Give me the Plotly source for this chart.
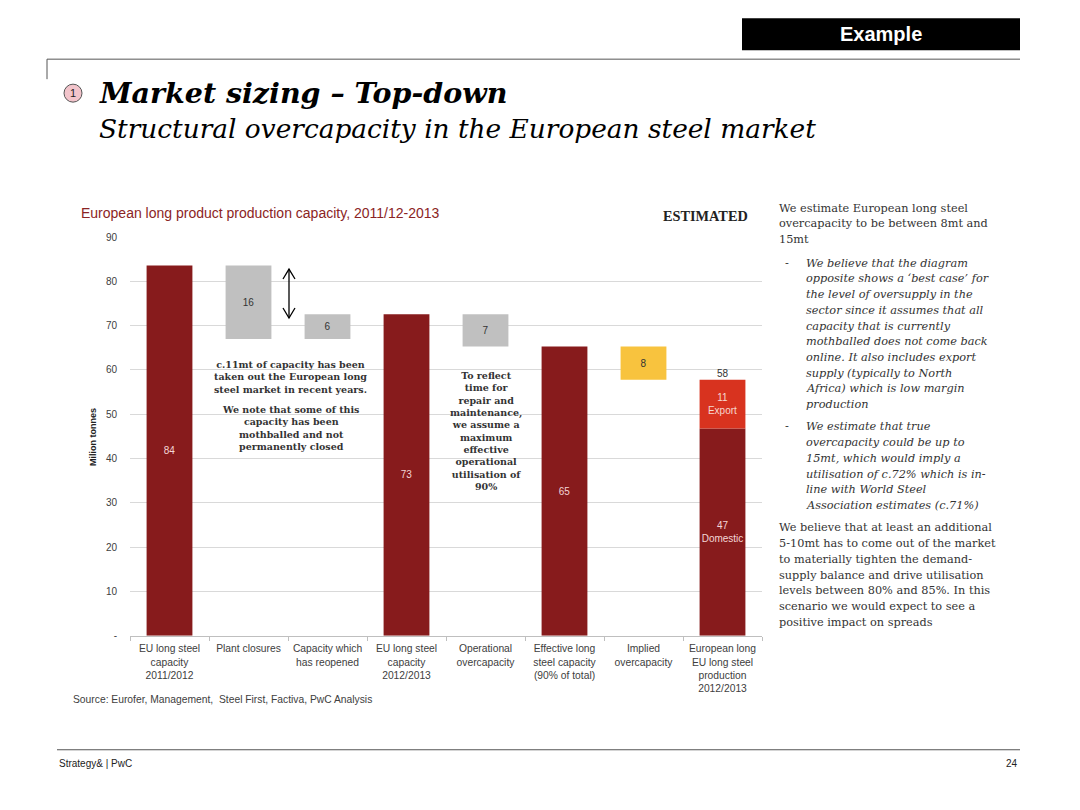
import plotly.graph_objects as go

W, H = 1080, 810

# ---------------- data ----------------
categories = [
    "EU long steel<br>capacity<br>2011/2012",
    "Plant closures",
    "Capacity which<br>has reopened",
    "EU long steel<br>capacity<br>2012/2013",
    "Operational<br>overcapacity",
    "Effective long<br>steel capacity<br>(90% of total)",
    "Implied<br>overcapacity",
    "European long<br>EU long steel<br>production<br>2012/2013",
]
cap_2011 = 83.6
plant_closures = 16.6
reopened = 5.6
cap_2012 = 72.6
operational_over = 7.3
effective_cap = 65.3
implied_over = 7.5
domestic = 46.8
export = 11.0

bar_base = [0, cap_2011 - plant_closures, cap_2011 - plant_closures, 0,
            effective_cap, 0, effective_cap - implied_over, 0]
bar_height = [cap_2011, plant_closures, reopened, cap_2012,
              operational_over, effective_cap, implied_over, domestic]
bar_labels = ["84", "16", "6", "73", "7", "65", "8", "47<br>Domestic"]
export_label = "11<br>Export"
total_label = "58"
y_ticks = [0, 10, 20, 30, 40, 50, 60, 70, 80, 90]
y_tick_text = ["-", "10", "20", "30", "40", "50", "60", "70", "80", "90"]

DARK = "#871b1c"
GREY = "#c0c0c0"
YELLOW = "#f8c33e"
EXPORT = "#d8331f"
bar_colors = [DARK, GREY, GREY, DARK, GREY, DARK, YELLOW, DARK]
text_colors = ["#f3d6d6" if c == DARK else "#333333" for c in bar_colors]

fig = go.Figure()
fig.add_trace(go.Bar(
    x=categories, y=bar_height, base=bar_base,
    marker=dict(color=bar_colors, line=dict(width=0)),
    text=bar_labels, textposition="inside", insidetextanchor="middle",
    textangle=0, textfont=dict(family="Liberation Sans, Arial", size=10, color=text_colors),
    width=0.58, hoverinfo="skip", showlegend=False,
))
fig.add_trace(go.Bar(
    x=[categories[-1]], y=[export], base=[domestic],
    marker=dict(color=EXPORT, line=dict(width=0)),
    text=[export_label], textposition="inside", insidetextanchor="middle",
    textangle=0, textfont=dict(family="Liberation Sans, Arial", size=10, color="#f6d8d0"),
    width=0.58, hoverinfo="skip", showlegend=False,
))
fig.add_trace(go.Scatter(
    x=[categories[-1]], y=[domestic + export], mode="text",
    text=[total_label], textposition="top center",
    textfont=dict(family="Liberation Sans, Arial", size=10, color="#333333"),
    hoverinfo="skip", showlegend=False,
))

# vertical correction for the capture pipeline (observed y' = SY*y + OY)
SY, OY = 0.987, 4.8


def px(x):
    return x / W


def py(y):
    return 1 - ((y - OY) / SY) / H


x0, x1 = 130, 762
y0, y1 = 237, 636

fig.update_layout(
    width=W, height=H,
    margin=dict(l=0, r=0, t=0, b=0),
    paper_bgcolor="white", plot_bgcolor="white",
    barmode="overlay",
    uniformtext=dict(minsize=10, mode="show"),
    xaxis=dict(
        domain=[px(x0), px(x1)], type="category",
        showline=True, linecolor="#bfbfbf", linewidth=1,
        ticks="outside", tickson="boundaries", ticklen=4, tickcolor="#bfbfbf",
        tickangle=0, ticklabelstandoff=3,
        tickfont=dict(family="Liberation Sans, Arial", size=10.3, color="#404040"),
        showgrid=False, fixedrange=True,
    ),
    yaxis=dict(
        domain=[py(y1), py(y0)], range=[0, 90],
        tickvals=y_ticks, ticktext=y_tick_text,
        showgrid=True, gridcolor="#d9d9d9", gridwidth=1,
        zeroline=False, showline=False, ticks="",
        ticklabelstandoff=12,
        tickfont=dict(family="Liberation Sans, Arial", size=10, color="#404040"),
        fixedrange=True,
    ),
    font=dict(family="Liberation Sans, Arial"),
)

shapes = []
annotations = []


def txt(x, y, text, font, xanchor="left", yanchor="middle", align="left", **kw):
    annotations.append(dict(xref="paper", yref="paper", x=px(x), y=py(y),
                            xanchor=xanchor, yanchor=yanchor, align=align,
                            text=text, showarrow=False, font=font, **kw))


# Example box
shapes.append(dict(type="rect", xref="paper", yref="paper",
                   x0=px(742), x1=px(1020), y0=py(50), y1=py(18),
                   fillcolor="black", line=dict(width=0)))
txt(881, 34, "<b>Example</b>", dict(family="Liberation Sans, Arial", size=20, color="white"),
    xanchor="center")
# top rule
shapes.append(dict(type="line", xref="paper", yref="paper",
                   x0=px(47), x1=px(1020), y0=py(59), y1=py(59),
                   line=dict(color="#555555", width=1)))
shapes.append(dict(type="line", xref="paper", yref="paper",
                   x0=px(47), x1=px(47), y0=py(59), y1=py(79),
                   line=dict(color="#555555", width=1)))
# circle 1
shapes.append(dict(type="circle", xref="paper", yref="paper",
                   x0=px(64), x1=px(82), y0=py(102), y1=py(84),
                   fillcolor="#f2c4cb", line=dict(color="#555555", width=1)))
txt(73, 93, "1", dict(family="Liberation Sans, Arial", size=11, color="#222222"), xanchor="center")
# titles
txt(97, 93, "<b><i>Market sizing – Top-down</i></b>",
    dict(family="DejaVu Serif", size=28.5, color="black"))
txt(97, 128, "<i>Structural overcapacity in the European steel market</i>",
    dict(family="DejaVu Serif", size=26.4, color="black"))
# chart title
txt(79, 213, "European long product production capacity, 2011/12-2013",
    dict(family="Liberation Sans, Arial", size=14, color="#8b2424"))
txt(750, 216, "<b>ESTIMATED</b>", dict(family="Liberation Serif", size=14.3, color="#222222"),
    xanchor="right")
# y-axis title
txt(93, 437, "<b>Milion tonnes</b>", dict(family="Liberation Sans, Arial", size=9, color="#222222"),
    xanchor="center", textangle=-90)

# double arrow (open chevrons)
ax_x, ax_top, ax_bot = 289, 269, 318
shapes.append(dict(type="line", xref="paper", yref="paper",
                   x0=px(ax_x), x1=px(ax_x), y0=py(ax_top), y1=py(ax_bot),
                   line=dict(color="black", width=1.3)))
shapes.append(dict(type="path", xref="paper", yref="paper",
                   path=f"M {px(ax_x-6)},{py(ax_top+10)} L {px(ax_x)},{py(ax_top)} L {px(ax_x+6)},{py(ax_top+10)}",
                   line=dict(color="black", width=1.3)))
shapes.append(dict(type="path", xref="paper", yref="paper",
                   path=f"M {px(ax_x-6)},{py(ax_bot-10)} L {px(ax_x)},{py(ax_bot)} L {px(ax_x+6)},{py(ax_bot-10)}",
                   line=dict(color="black", width=1.3)))

# in-chart notes
note_font = dict(family="DejaVu Serif", size=9.5, color="#333333")
txt(290, 357, "<b>c.11mt of capacity has been<br>taken out the European long<br>steel market in recent years.</b>",
    note_font, xanchor="center", yanchor="top", align="center")
txt(290, 402, "<b>We note that some of this<br>capacity has been<br>mothballed and not<br>permanently closed</b>",
    note_font, xanchor="center", yanchor="top", align="center")
txt(486, 368, "<b>To reflect<br>time for<br>repair and<br>maintenance,<br>we assume a<br>maximum<br>effective<br>operational<br>utilisation of<br>90%</b>",
    note_font, xanchor="center", yanchor="top", align="center")
# source
txt(71, 700, "Source: Eurofer, Management,  Steel First, Factiva, PwC Analysis",
    dict(family="Liberation Sans, Arial", size=10.3, color="#404040"))

# right commentary, placed line by line
body = dict(family="DejaVu Serif", size=11.3, color="#333333")
pitch = 15.75


def para(x, y_first, lines, italic=False):
    for i, line in enumerate(lines):
        t = f"<i>{line}</i>" if italic else line
        txt(x, y_first + i * pitch, t, body)


para(777, 208, ["We estimate European long steel",
                "overcapacity to be between 8mt and",
                "15mt"])
txt(783, 263, "-", body)
para(804, 263, ["We believe that the diagram",
                "opposite shows a ‘best case’ for",
                "the level of oversupply in the",
                "sector since it assumes that all",
                "capacity that is currently",
                "mothballed does not come back",
                "online. It also includes export",
                "supply (typically to North",
                "Africa) which is low margin",
                "production"], italic=True)
txt(783, 427, "-", body)
para(804, 427, ["We estimate that true",
                "overcapacity could be up to",
                "15mt, which would imply a",
                "utilisation of c.72% which is in-",
                "line with World Steel",
                "Association estimates (c.71%)"], italic=True)
para(777, 528, ["We believe that at least an additional",
                "5-10mt has to come out of the market",
                "to materially tighten the demand-",
                "supply balance and drive utilisation",
                "levels between 80% and 85%. In this",
                "scenario we would expect to see a",
                "positive impact on spreads"])

# footer
shapes.append(dict(type="line", xref="paper", yref="paper",
                   x0=px(57), x1=px(1020), y0=py(750), y1=py(750),
                   line=dict(color="#555555", width=1)))
txt(57, 764, "Strategy& | PwC", dict(family="Liberation Sans, Arial", size=10, color="#222222"))
txt(1020, 764, "24", dict(family="Liberation Sans, Arial", size=10, color="#222222"), xanchor="right")

fig.update_layout(shapes=shapes, annotations=annotations)
fig.write_html(
    "out.html",
    config={"displayModeBar": False},
    post_script=(
        "document.documentElement.style.margin='0';"
        "document.documentElement.style.overflow='hidden';"
        "document.body.style.margin='0';"
        "document.body.style.padding='0';"
        "document.body.style.overflow='hidden';"
    ),
)
